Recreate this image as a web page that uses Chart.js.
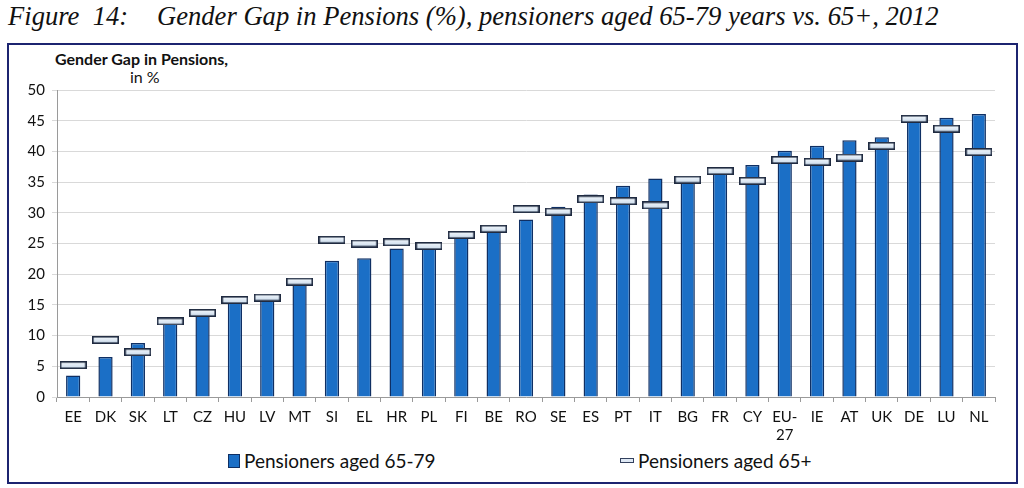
<!DOCTYPE html>
<html>
<head>
<meta charset="utf-8">
<script src="https://cdn.jsdelivr.net/npm/chart.js@4"></script>
<style>
  body { margin: 0; background: #fff; width: 1024px; height: 488px; overflow: hidden; position: relative; font-family: Lato, "Open Sans", sans-serif; }
  .fig-title { position: absolute; left: 8px; top: 1px; font-family: "Liberation Serif", "DejaVu Serif", serif; font-style: italic; font-size: 26.6px; color: #111; white-space: pre; }
  .fig-title .lead { display: inline-block; width: 149px; }
  .box { position: absolute; left: 7px; top: 43px; width: 1007px; height: 437px; border: 2px solid #1c2470; }
  .chart-wrap { position: absolute; left: 0; top: 1px; width: 1005px; height: 395px; }
  .ytitle { position: absolute; left: 46px; top: 4px; font-size: 16px; font-weight: bold; color: #111; }
  .yunit { position: absolute; left: 121px; top: 22px; font-size: 16px; color: #111; }
  .legend-item { position: absolute; top: 404px; font-size: 19px; color: #111; display: flex; align-items: center; }
  .sw-bar { width: 10px; height: 12px; background: #1b6fc6; border: 1px solid #0f2f63; margin-right: 4px; }
  .sw-mark { width: 12px; height: 3px; background: #dfe9f5; border: 1px solid #33415e; margin-right: 4px; }
</style>
</head>
<body>
<div class="fig-title"><span class="lead">Figure  14:</span>Gender Gap in Pensions (%), pensioners aged 65-79 years vs. 65+, 2012</div>
<div class="box">
  <div class="ytitle">Gender Gap in Pensions,</div>
  <div class="yunit">in %</div>
  <div class="chart-wrap"><canvas id="gapChart"></canvas></div>
  <div class="legend-item" style="left:219px;"><span class="sw-bar"></span>Pensioners aged 65-79</div>
  <div class="legend-item" style="left:611px;"><span class="sw-mark"></span>Pensioners aged 65+</div>
</div>
<script>
const countries = ['EE', 'DK', 'SK', 'LT', 'CZ', 'HU', 'LV', 'MT', 'SI', 'EL', 'HR', 'PL', 'FI', 'BE', 'RO',
  'SE', 'ES', 'PT', 'IT', 'BG', 'FR', 'CY', ['EU-', '27'], 'IE', 'AT', 'UK', 'DE', 'LU', 'NL'];
const aged65to79 = [3.5, 6.5, 8.8, 12.0, 14.2, 15.4, 15.8, 18.5, 22.2, 22.6, 24.2, 24.3, 26.2, 27.0, 28.9,
  31.0, 33.0, 34.4, 35.6, 36.0, 37.4, 37.8, 40.1, 40.9, 41.8, 42.3, 45.0, 45.5, 46.1];
const aged65plus = [5.2, 9.3, 7.3, 12.3, 13.7, 15.8, 16.2, 18.8, 25.6, 25.0, 25.2, 24.6, 26.4, 27.4, 30.6,
  30.2, 32.2, 31.9, 31.2, 35.4, 36.8, 35.2, 38.6, 38.3, 39.0, 40.9, 45.3, 43.7, 39.9];
const yTicks = [0, 5, 10, 15, 20, 25, 30, 35, 40, 45, 50];

// little flat marker used for the 65+ series
const marker = document.createElement('canvas');
marker.width = 27; marker.height = 8;
(() => {
  const c = marker.getContext('2d');
  const g = c.createLinearGradient(0, 0, 0, 8);
  g.addColorStop(0, '#f7fafd');
  g.addColorStop(1, '#c6d8ea');
  c.fillStyle = g;
  c.fillRect(1, 1, 25, 6);
  c.strokeStyle = '#1f2a40';
  c.lineWidth = 1.6;
  c.strokeRect(0.8, 0.8, 25.4, 6.4);
})();

const ctx = document.getElementById('gapChart');
new Chart(ctx, {
  data: {
    labels: countries,
    datasets: [
      {
        type: 'line',
        label: 'Pensioners aged 65+',
        data: aged65plus,
        showLine: false,
        pointStyle: marker,
        pointRadius: 5,
        order: 0
      },
      {
        type: 'bar',
        label: 'Pensioners aged 65-79',
        data: aged65to79,
        backgroundColor: '#1b6fc6',
        borderColor: '#0f2f63',
        borderWidth: 1.5,
        categoryPercentage: 1,
        barPercentage: 0.44,
        order: 1
      }
    ]
  },
  options: {
    responsive: true,
    maintainAspectRatio: false,
    animation: false,
    layout: { padding: { top: 44, right: 19, left: 0, bottom: 0 } },
    plugins: {
      legend: { display: false },
      tooltip: { enabled: false }
    },
    scales: {
      x: {
        grid: { display: true, drawOnChartArea: false, drawTicks: true, tickLength: 5, color: '#9a9a9a', offset: true },
        border: { color: '#9a9a9a' },
        ticks: { color: '#111', font: { family: 'Lato', size: 15 }, maxRotation: 0, autoSkip: false, padding: 6 },
        afterFit: s => { s.height = 44; }
      },
      y: {
        min: 0,
        max: 50,
        afterBuildTicks: s => { s.ticks = yTicks.map(v => ({ value: v })); },
        grid: { color: '#d9d9d9', tickLength: 5, lineWidth: 1 },
        border: { color: '#9a9a9a' },
        ticks: { color: '#111', font: { family: 'Lato', size: 15 }, padding: 7 },
        afterFit: s => { s.width = 48; }
      }
    }
  }
});
</script>
</body>
</html>
